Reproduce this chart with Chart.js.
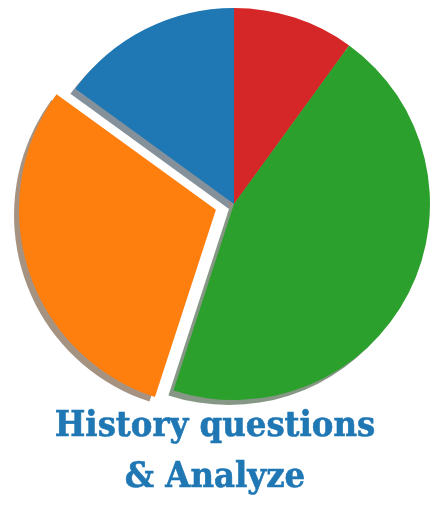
<!DOCTYPE html>
<html lang="en">
<head>
    <meta charset="UTF-8">
    <title>History questions &amp; Analyze</title>
    <script src="https://cdn.jsdelivr.net/npm/chart.js"></script>
    <style>
        body { margin: 0; background: #fff; }
        #wrap { position: relative; width: 444px; height: 522px; }
        #title {
            position: absolute; left: 0; top: 398px; width: 430px;
            text-align: center; color: #1f77b4;
            font-family: 'DejaVu Serif Condensed', 'DejaVu Serif', serif;
            font-weight: bold; font-size: 36px; line-height: 51px;
            -webkit-text-stroke: 0.6px #1f77b4;
        }
    </style>
</head>
<body>
    <div id="wrap">
        <canvas id="chart" width="444" height="522"></canvas>
        <div id="title"></div>
    </div>

    <script>
        // data (clockwise from 12 o'clock)
        const labels = ["Red", "Green", "Orange", "Blue"];
        const values = [10, 45, 30, 15];
        const colors = ["#d62728", "#2ca02c", "#ff7f0e", "#1f77b4"];
        const offsets = [0, 0, 76, 0]; // orange slice pulled out
        const titleLines = ["History questions", "& Analyze"];

        document.getElementById("title").innerHTML =
            titleLines.map(t => t.replace("&", "&amp;")).join("<br>");

        // shadow colour = slice colour * 0.3, half transparent
        function shadowOf(hex) {
            const r = parseInt(hex.slice(1, 3), 16) * 0.3;
            const g = parseInt(hex.slice(3, 5), 16) * 0.3;
            const b = parseInt(hex.slice(5, 7), 16) * 0.3;
            return `rgba(${r|0},${g|0},${b|0},0.5)`;
        }

        // draws every slice's shadow first, below all slices
        const shadowPlugin = {
            id: "pieShadow",
            beforeDatasetsDraw(chart) {
                const ctx = chart.ctx;
                const arcs = chart.getDatasetMeta(0).data;
                arcs.forEach((arc, i) => {
                    const p = arc.getProps(["x", "y", "startAngle", "endAngle", "outerRadius", "circumference"]);
                    const off = (arc.options.offset || 0) / 4;
                    const fix = 1 - Math.sin(Math.min(Math.PI, p.circumference || 0));
                    const shift = off + off * fix;
                    const half = (p.startAngle + p.endAngle) / 2;
                    const cx = p.x + Math.cos(half) * shift - 5;
                    const cy = p.y + Math.sin(half) * shift + 5;
                    ctx.save();
                    ctx.fillStyle = shadowOf(colors[i]);
                    ctx.beginPath();
                    ctx.moveTo(cx, cy);
                    ctx.arc(cx, cy, p.outerRadius, p.startAngle, p.endAngle);
                    ctx.closePath();
                    ctx.fill();
                    ctx.restore();
                });
            }
        };

        new Chart(document.getElementById("chart"), {
            type: "pie",
            data: {
                labels: labels,
                datasets: [{
                    data: values,
                    backgroundColor: colors,
                    offset: offsets,
                    hoverOffset: 0,
                    borderWidth: 0,
                    clip: false
                }]
            },
            options: {
                responsive: false,
                animation: false,
                devicePixelRatio: 1,
                radius: 196,
                layout: { padding: { left: 24, right: 0, top: 0, bottom: 114 } },
                plugins: {
                    legend: { display: false },
                    tooltip: { enabled: false },
                    title: { display: false }
                }
            },
            plugins: [shadowPlugin]
        });
    </script>
</body>
</html>
